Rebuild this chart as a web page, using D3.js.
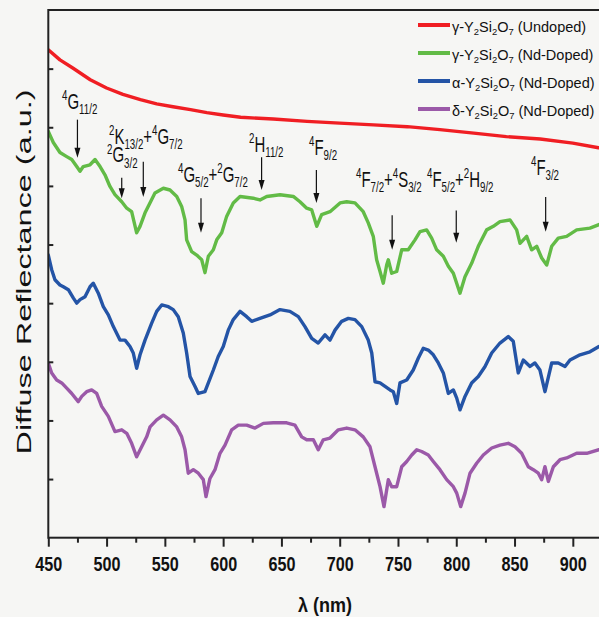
<!DOCTYPE html>
<html>
<head>
<meta charset="utf-8">
<script src="https://cdn.jsdelivr.net/npm/d3@7"></script>
<style>
  body { margin: 0; background: #f6f6f4; }
  svg { display: block; font-family: "Liberation Sans", Arial, sans-serif; }
</style>
</head>
<body>
<svg id="chart" width="599" height="617"></svg>
<script>
// ~~~~~~~~ data: [wavelength nm, diffuse reflectance a.u.] ~~~~~~~~
var undopedGamma = [[450,8.32],[460,8.15],[471,8.01],[486,7.81],[500,7.67],[514,7.56],[529,7.47],[543,7.40],
  [557,7.35],[572,7.30],[586,7.25],[600,7.21],[615,7.17],[643,7.14],[672,7.10],[700,7.07],[729,7.04],
  [758,7.01],[786,6.96],[815,6.90],[843,6.84],[872,6.80],[900,6.73],[922,6.65]];

var ndGamma = [[450,6.93],[454.3,6.74],[460,6.57],[465.8,6.50],[470.1,6.45],[474.4,6.33],[477.2,6.25],[480,6.33],
  [485.8,6.36],[490.1,6.45],[494.4,6.33],[498.6,6.19],[502.9,5.99],[507.2,5.85],[513,5.73],[517.3,5.62],
  [521.5,5.56],[525.8,5.20],[528.7,5.31],[533,5.54],[537.2,5.71],[541.5,5.88],[548.7,5.96],[554.4,5.93],
  [560.2,5.82],[564.4,5.65],[567.3,5.42],[568.7,5.08],[573,4.88],[577.3,4.82],[581.6,4.74],[584.4,4.52],
  [587.3,4.80],[591.6,4.91],[594.5,5.08],[598.8,5.20],[603,5.48],[608.7,5.71],[614.5,5.82],[625.9,5.79],
  [631.6,5.76],[637.4,5.82],[648.8,5.85],[660.2,5.82],[665.9,5.73],[671.7,5.62],[676,5.59],[680.3,5.31],
  [684.5,5.51],[691.7,5.56],[700.3,5.71],[706,5.73],[713.1,5.71],[720.2,5.56],[724.5,5.37],[728.8,5.14],
  [731.7,4.74],[734.6,4.54],[737.4,4.34],[740.3,4.65],[741.7,4.74],[744.6,4.51],[748.9,4.54],[753.2,4.91],
  [758.8,4.91],[764.6,5.08],[768.9,5.22],[774.6,5.25],[778.9,5.11],[783.2,4.91],[788.9,4.80],[793.2,4.63],
  [797.5,4.51],[803.2,4.17],[807.5,4.45],[813.2,4.68],[818.9,4.97],[826.1,5.25],[831.8,5.31],[837.5,5.39],
  [846.1,5.42],[851.8,5.25],[854.7,5.02],[860.4,5.14],[864.7,4.91],[869,4.97],[873.3,4.77],[877.6,4.65],
  [881.9,4.97],[887.5,5.11],[894.7,5.14],[903.3,5.25],[914.7,5.28],[922.4,5.34]];

var ndAlpha = [[450,4.82],[452.9,4.57],[455.7,4.40],[460,4.31],[462.9,4.28],[467.2,4.23],[471.4,4.09],[474.4,4.00],
  [477.2,4.06],[481.5,4.11],[485.8,4.28],[488.6,4.34],[492.9,4.17],[497.2,3.94],[501.5,3.80],[505.8,3.60],
  [511.5,3.37],[515.8,3.37],[520.1,3.26],[522.9,3.15],[525.8,2.89],[528.7,3.12],[533,3.37],[538.7,3.66],
  [543,3.86],[547.3,3.97],[553,3.94],[557.2,3.89],[561.5,3.77],[565.8,3.49],[568.7,3.15],[571.6,2.75],
  [575.9,2.58],[578.7,2.46],[584.4,2.49],[587.3,2.64],[591.6,2.86],[595.8,3.09],[600.1,3.26],[604.4,3.54],
  [608.7,3.72],[614.5,3.86],[620.2,3.77],[624.5,3.69],[631.6,3.74],[640.2,3.80],[648.8,3.89],[657.3,3.86],
  [664.5,3.77],[670.2,3.60],[676,3.40],[681.6,3.32],[687.4,3.46],[691.7,3.37],[696,3.54],[701.7,3.69],
  [707.4,3.74],[713.1,3.72],[718.9,3.60],[724.5,3.37],[727.5,3.15],[730.3,2.66],[734.6,2.64],[738.9,2.58],
  [743.2,2.52],[746,2.49],[748.9,2.29],[751.7,2.64],[757.5,2.69],[763.1,2.86],[767.4,3.06],[771.7,3.23],
  [776,3.20],[780.3,3.12],[784.6,2.98],[788.9,2.81],[793.2,2.46],[797.5,2.52],[800.4,2.38],[803.2,2.18],
  [807.5,2.41],[813.2,2.64],[818.9,2.75],[824.7,2.92],[830.4,3.15],[837.5,3.32],[844.6,3.43],[848.9,3.35],
  [853.2,2.81],[857.5,3.03],[863.3,2.92],[867.5,2.98],[871.8,2.86],[876.1,2.49],[881.9,2.98],[887.5,2.98],
  [893.3,2.92],[897.6,3.03],[906.2,3.12],[914.7,3.17],[922.4,3.26]];

var ndDelta = [[450,2.98],[452.9,2.81],[457.2,2.69],[461.5,2.64],[465.8,2.55],[470.1,2.46],[475.7,2.32],[478.7,2.41],
  [482.9,2.49],[487.2,2.52],[491.5,2.46],[495.8,2.24],[501.5,2.07],[507.2,1.81],[513,1.84],[517.3,1.78],
  [521.5,1.61],[525.8,1.38],[530.1,1.55],[534.4,1.72],[537.3,1.89],[543,2.01],[548.7,2.09],[554.4,2.01],
  [560.2,1.89],[564.4,1.72],[567.3,1.50],[570.1,1.10],[574.4,1.16],[578.7,1.10],[583,0.99],[585.3,0.70],
  [588.7,1.01],[593,1.16],[597.3,1.44],[601.6,1.58],[607.3,1.84],[613,1.92],[620.2,1.92],[627.3,1.87],
  [634.5,1.95],[643,1.96],[654.5,1.96],[661.6,1.92],[667.4,1.72],[671.7,1.67],[677.4,1.67],[681.6,1.50],
  [685.9,1.67],[691.7,1.70],[698.8,1.84],[706,1.87],[713.1,1.84],[720.2,1.72],[726,1.55],[730.3,1.21],
  [734.6,0.87],[738,0.53],[741.7,0.99],[744.6,0.87],[748.9,0.87],[753.2,1.21],[757.5,1.30],[761.8,1.41],
  [766.1,1.50],[770.3,1.47],[776,1.41],[780.3,1.30],[786,1.16],[791.8,0.99],[797.5,0.87],[800.4,0.76],
  [803.8,0.53],[807.5,0.76],[811.8,1.10],[817.5,1.27],[823.2,1.41],[830.4,1.53],[837.5,1.58],[844.6,1.61],
  [850.4,1.55],[856.1,1.44],[861.8,1.21],[866.1,1.16],[870.4,1.10],[873.3,0.99],[876.1,1.21],[879,0.96],
  [883.3,1.21],[889,1.33],[894.7,1.36],[903.3,1.44],[911.9,1.44],[922.4,1.50]];

var seriesData = [undopedGamma, ndGamma, ndAlpha, ndDelta];
var seriesColors = ["#f01e23", "#62bb46", "#2454a6", "#9b59a8"];
var seriesLabels = [
  [["γ-Y"], ["2", "sub"], ["Si"], ["2", "sub"], ["O"], ["7", "sub"], [" (Undoped)"]],
  [["γ-Y"], ["2", "sub"], ["Si"], ["2", "sub"], ["O"], ["7", "sub"], [" (Nd-Doped)"]],
  [["α-Y"], ["2", "sub"], ["Si"], ["2", "sub"], ["O"], ["7", "sub"], [" (Nd-Doped)"]],
  [["δ-Y"], ["2", "sub"], ["Si"], ["2", "sub"], ["O"], ["7", "sub"], [" (Nd-Doped)"]]
];

var xMajorTicks = [450, 500, 550, 600, 650, 700, 750, 800, 850, 900];
var xMinorTicks = [475, 525, 575, 625, 675, 725, 775, 825, 875, 925];
var yTicks = [1, 2, 3, 4, 5, 6, 7, 8];

// Nd3+ transitions marked on the gamma (Nd-doped) curve
var transitionLabels = [
  [["4", "sup"], ["G"], ["11/2", "sub"]],
  [["2", "sup"], ["G"], ["3/2", "sub"]],
  [["2", "sup"], ["K"], ["13/2", "sub"], ["+"], ["4", "sup"], ["G"], ["7/2", "sub"]],
  [["4", "sup"], ["G"], ["5/2", "sub"], ["+"], ["2", "sup"], ["G"], ["7/2", "sub"]],
  [["2", "sup"], ["H"], ["11/2", "sub"]],
  [["4", "sup"], ["F"], ["9/2", "sub"]],
  [["4", "sup"], ["F"], ["7/2", "sub"], ["+"], ["4", "sup"], ["S"], ["3/2", "sub"]],
  [["4", "sup"], ["F"], ["5/2", "sub"], ["+"], ["2", "sup"], ["H"], ["9/2", "sub"]],
  [["4", "sup"], ["F"], ["3/2", "sub"]]
];
var arrowNm  = [475, 513, 531.5, 581, 633, 680, 745, 800, 876.7];
var arrowTop = [7.13, 6.14, 6.41, 5.79, 6.49, 6.27, 5.50, 5.58, 5.81];
var arrowTip = [6.48, 5.79, 5.81, 5.20, 5.93, 5.71, 4.91, 5.03, 5.22];
var labelNm  = [461.8, 500.4, 502.1, 561.3, 622.2, 673.7, 714.0, 774.9, 864.1];
var labelVal = [7.31, 6.40, 6.71, 6.07, 6.58, 6.53, 5.98, 5.98, 6.19];

// ~~~~~~~~ layout ~~~~~~~~
var svg = d3.select("#chart");
var plotLeft = 48.3, plotTop = 10, plotBottom = 537.7;

var x = d3.scaleLinear().domain([450, 925]).range([plotLeft, plotLeft + 475 * 1.1656]);
var y = d3.scaleLinear().domain([0, 9]).range([plotBottom, plotTop]);

// rich text with sub/superscripts
function richText(sel, parts, size) {
  var shift = 0;
  parts.forEach(function (p) {
    var kind = p[1];
    var target = kind === "sup" ? -0.4 * size : (kind === "sub" ? 0.23 * size : 0);
    sel.append("tspan")
      .attr("font-size", kind ? size * 0.65 : size)
      .attr("dy", target - shift)
      .text(p[0]);
    shift = target;
  });
}

svg.append("clipPath").attr("id", "plotclip")
  .append("rect").attr("x", plotLeft).attr("y", plotTop)
  .attr("width", x(925) - plotLeft).attr("height", plotBottom - plotTop);

// curves
var line = d3.line().x(function (d) { return x(d[0]); }).y(function (d) { return y(d[1]); });
svg.append("g").attr("clip-path", "url(#plotclip)")
  .selectAll("path")
  .data(seriesData)
  .enter()
  .append("path")
  .attr("d", line)
  .attr("fill", "none")
  .attr("stroke", function (d, i) { return seriesColors[i]; })
  .attr("stroke-width", 3.4)
  .attr("stroke-linejoin", "round")
  .attr("stroke-linecap", "round");

// frame
svg.append("rect")
  .attr("x", plotLeft).attr("y", plotTop)
  .attr("width", x(925) - plotLeft).attr("height", plotBottom - plotTop)
  .attr("fill", "none").attr("stroke", "#222").attr("stroke-width", 2);

// axes
var xAxis = svg.append("g").attr("transform", "translate(0," + plotBottom + ")")
  .call(d3.axisBottom(x).tickValues(xMajorTicks).tickSize(9).tickPadding(10).tickFormat(d3.format("d")));
xAxis.select(".domain").remove();
xAxis.selectAll(".tick line").attr("stroke", "#222").attr("stroke-width", 2);
xAxis.selectAll(".tick text")
  .attr("fill", "#111")
  .attr("font-family", "Liberation Sans, Arial, sans-serif")
  .attr("font-size", 20).attr("font-weight", "bold")
  .attr("textLength", 27).attr("lengthAdjust", "spacingAndGlyphs");

var xMinor = svg.append("g").attr("transform", "translate(0," + plotBottom + ")")
  .call(d3.axisBottom(x).tickValues(xMinorTicks.filter(function (t) { return x(t) < 599; })).tickSize(5).tickFormat(""));
xMinor.select(".domain").remove();
xMinor.selectAll(".tick line").attr("stroke", "#222").attr("stroke-width", 2);

var yAxis = svg.append("g").attr("transform", "translate(" + plotLeft + ",0)")
  .call(d3.axisLeft(y).tickValues(yTicks).tickSize(-5).tickFormat(""));
yAxis.select(".domain").remove();
yAxis.selectAll(".tick line").attr("stroke", "#222").attr("stroke-width", 2);

// axis titles
svg.append("text")
  .attr("x", 325).attr("y", 612)
  .attr("text-anchor", "middle")
  .attr("font-size", 20).attr("font-weight", "bold").attr("fill", "#111")
  .attr("textLength", 54).attr("lengthAdjust", "spacingAndGlyphs")
  .text("λ (nm)");

svg.append("text")
  .attr("transform", "translate(31,272) rotate(-90)")
  .attr("text-anchor", "middle")
  .attr("font-size", 20).attr("fill", "#111")
  .attr("textLength", 365).attr("lengthAdjust", "spacingAndGlyphs")
  .text("Diffuse Reflectance (a.u.)");

// transition arrows + labels
var ann = svg.append("g");
arrowNm.forEach(function (nm, i) {
  var ax = x(nm), y0 = y(arrowTop[i]), y1 = y(arrowTip[i]);
  ann.append("line")
    .attr("x1", ax).attr("x2", ax).attr("y1", y0).attr("y2", y1 - 6)
    .attr("stroke", "#111").attr("stroke-width", 1.2);
  ann.append("path")
    .attr("d", "M" + (ax - 3) + "," + (y1 - 10) + "L" + (ax + 3) + "," + (y1 - 10) + "L" + ax + "," + y1 + "Z")
    .attr("fill", "#111");
  var t = ann.append("g")
    .attr("transform", "translate(" + x(labelNm[i]) + "," + y(labelVal[i]) + ") scale(0.68,1)")
    .append("text").attr("fill", "#111");
  richText(t, transitionLabels[i], 22);
});

// legend
var legend = svg.append("g");
seriesLabels.forEach(function (parts, i) {
  var ly = 25 + i * 28;
  legend.append("line")
    .attr("x1", 418).attr("x2", 450).attr("y1", ly).attr("y2", ly)
    .attr("stroke", seriesColors[i]).attr("stroke-width", 4);
  var t = legend.append("text").attr("x", 452).attr("y", ly + 6.5)
    .attr("fill", "#111");
  richText(t, parts, 14.5);
});
</script>
</body>
</html>
